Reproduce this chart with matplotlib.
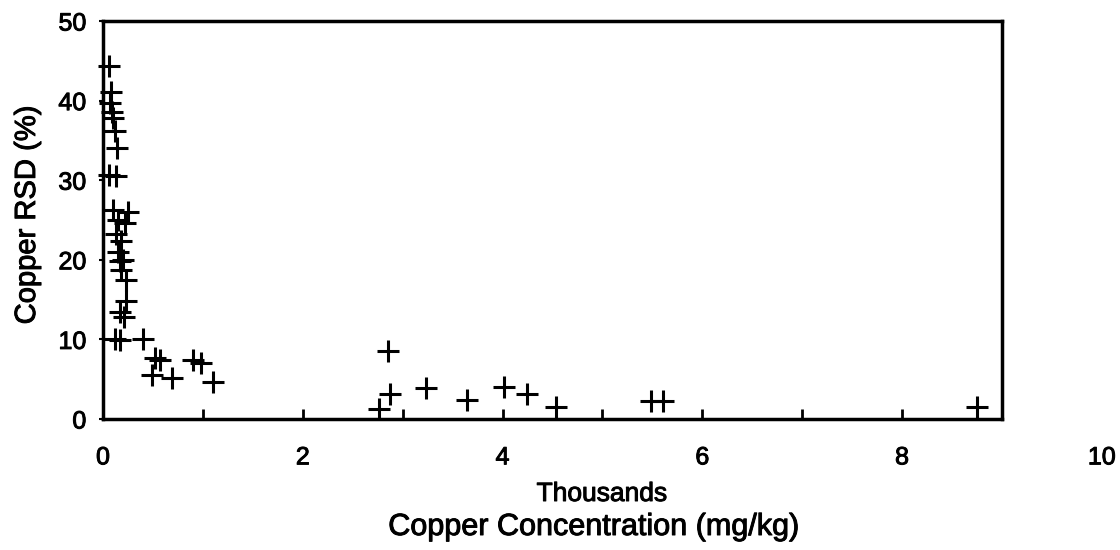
import matplotlib
matplotlib.use("Agg")
import matplotlib.pyplot as plt
import matplotlib.patheffects as pe
from matplotlib.ticker import FixedLocator

plt.rcParams['font.family'] = ['Liberation Sans', 'DejaVu Sans']

# Copper concentration (thousands mg/kg) and RSD (%)
conc = [0.06, 0.08, 0.07, 0.09, 0.10, 0.12, 0.14, 0.06, 0.13,
        0.10, 0.25, 0.15, 0.22, 0.13, 0.18, 0.15, 0.20, 0.17, 0.18,
        0.23, 0.23, 0.17, 0.21, 0.12, 0.17, 0.40, 0.52, 0.57, 0.49,
        0.69, 0.90, 0.98, 1.10,
        2.85, 2.87, 2.76, 3.23, 3.64, 4.01, 4.24, 4.54, 5.49, 5.61, 8.75]
rsd = [44.4, 41.1, 39.7, 38.6, 37.8, 36.2, 34.0, 30.6, 30.5,
       26.3, 26.0, 25.0, 24.6, 23.3, 22.3, 21.0, 20.0, 19.8, 18.7,
       17.5, 14.8, 13.5, 12.8, 10.0, 9.9, 10.1, 7.6, 7.4, 5.5,
       5.1, 7.4, 7.0, 4.7,
       8.6, 3.1, 1.3, 3.9, 2.4, 4.0, 3.1, 1.5, 2.3, 2.2, 1.5]

x_ticks = [0, 2, 4, 6, 8, 10]
x_minor = [1, 3, 5, 7, 9]
y_ticks = [0, 10, 20, 30, 40, 50]
x_visible_max = 9.0   # plot frame ends short of the last labelled tick

heavy = [pe.withStroke(linewidth=0.7, foreground='black')]

fig = plt.figure(figsize=(11.2, 5.5), dpi=100)
ax = fig.add_axes([0.092, 0.2382, 0.8026, 0.7236])

ax.plot(conc, rsd, linestyle='none', marker='+', markersize=16,
        markeredgewidth=2.2, color='black', clip_on=False)

ax.set_xlim(0, x_visible_max)
ax.set_ylim(0, 50)
inside = [t for t in x_ticks if t <= x_visible_max]
outside = [t for t in x_ticks if t > x_visible_max]
ax.set_xticks(inside)
ax.set_xticklabels([str(t) for t in inside])
ax.xaxis.set_minor_locator(FixedLocator(x_minor))
ax.set_yticks(y_ticks)
ax.set_yticklabels([str(t) for t in y_ticks])

for s in ax.spines.values():
    s.set_linewidth(2.5)

ax.tick_params(axis='x', which='both', direction='in', length=7, width=2,
               labelsize=18, pad=19, top=False)
ax.tick_params(axis='y', which='major', direction='out', length=3, width=1.5,
               labelsize=18, pad=9, right=False)

for lab in ax.get_xticklabels() + ax.get_yticklabels():
    lab.set_path_effects(heavy)

for t in outside:
    ax.annotate(str(t), xy=(t, 0), xycoords=('data', 'axes fraction'),
                xytext=(0, -19), textcoords='offset points', ha='center',
                va='top', fontsize=18, annotation_clip=False,
                path_effects=heavy)

fig.text(27 / 1120, 1 - 215 / 550, 'Copper RSD (%)', rotation=90,
         ha='center', va='center', fontsize=21, path_effects=heavy)
fig.text(602 / 1120, 1 - 494 / 550, 'Thousands', ha='center', va='center',
         fontsize=19, path_effects=heavy)
fig.text(593 / 1120, 1 - 527 / 550, 'Copper Concentration (mg/kg)',
         ha='center', va='center', fontsize=22, path_effects=heavy)

fig.savefig('out.png', dpi=100)
